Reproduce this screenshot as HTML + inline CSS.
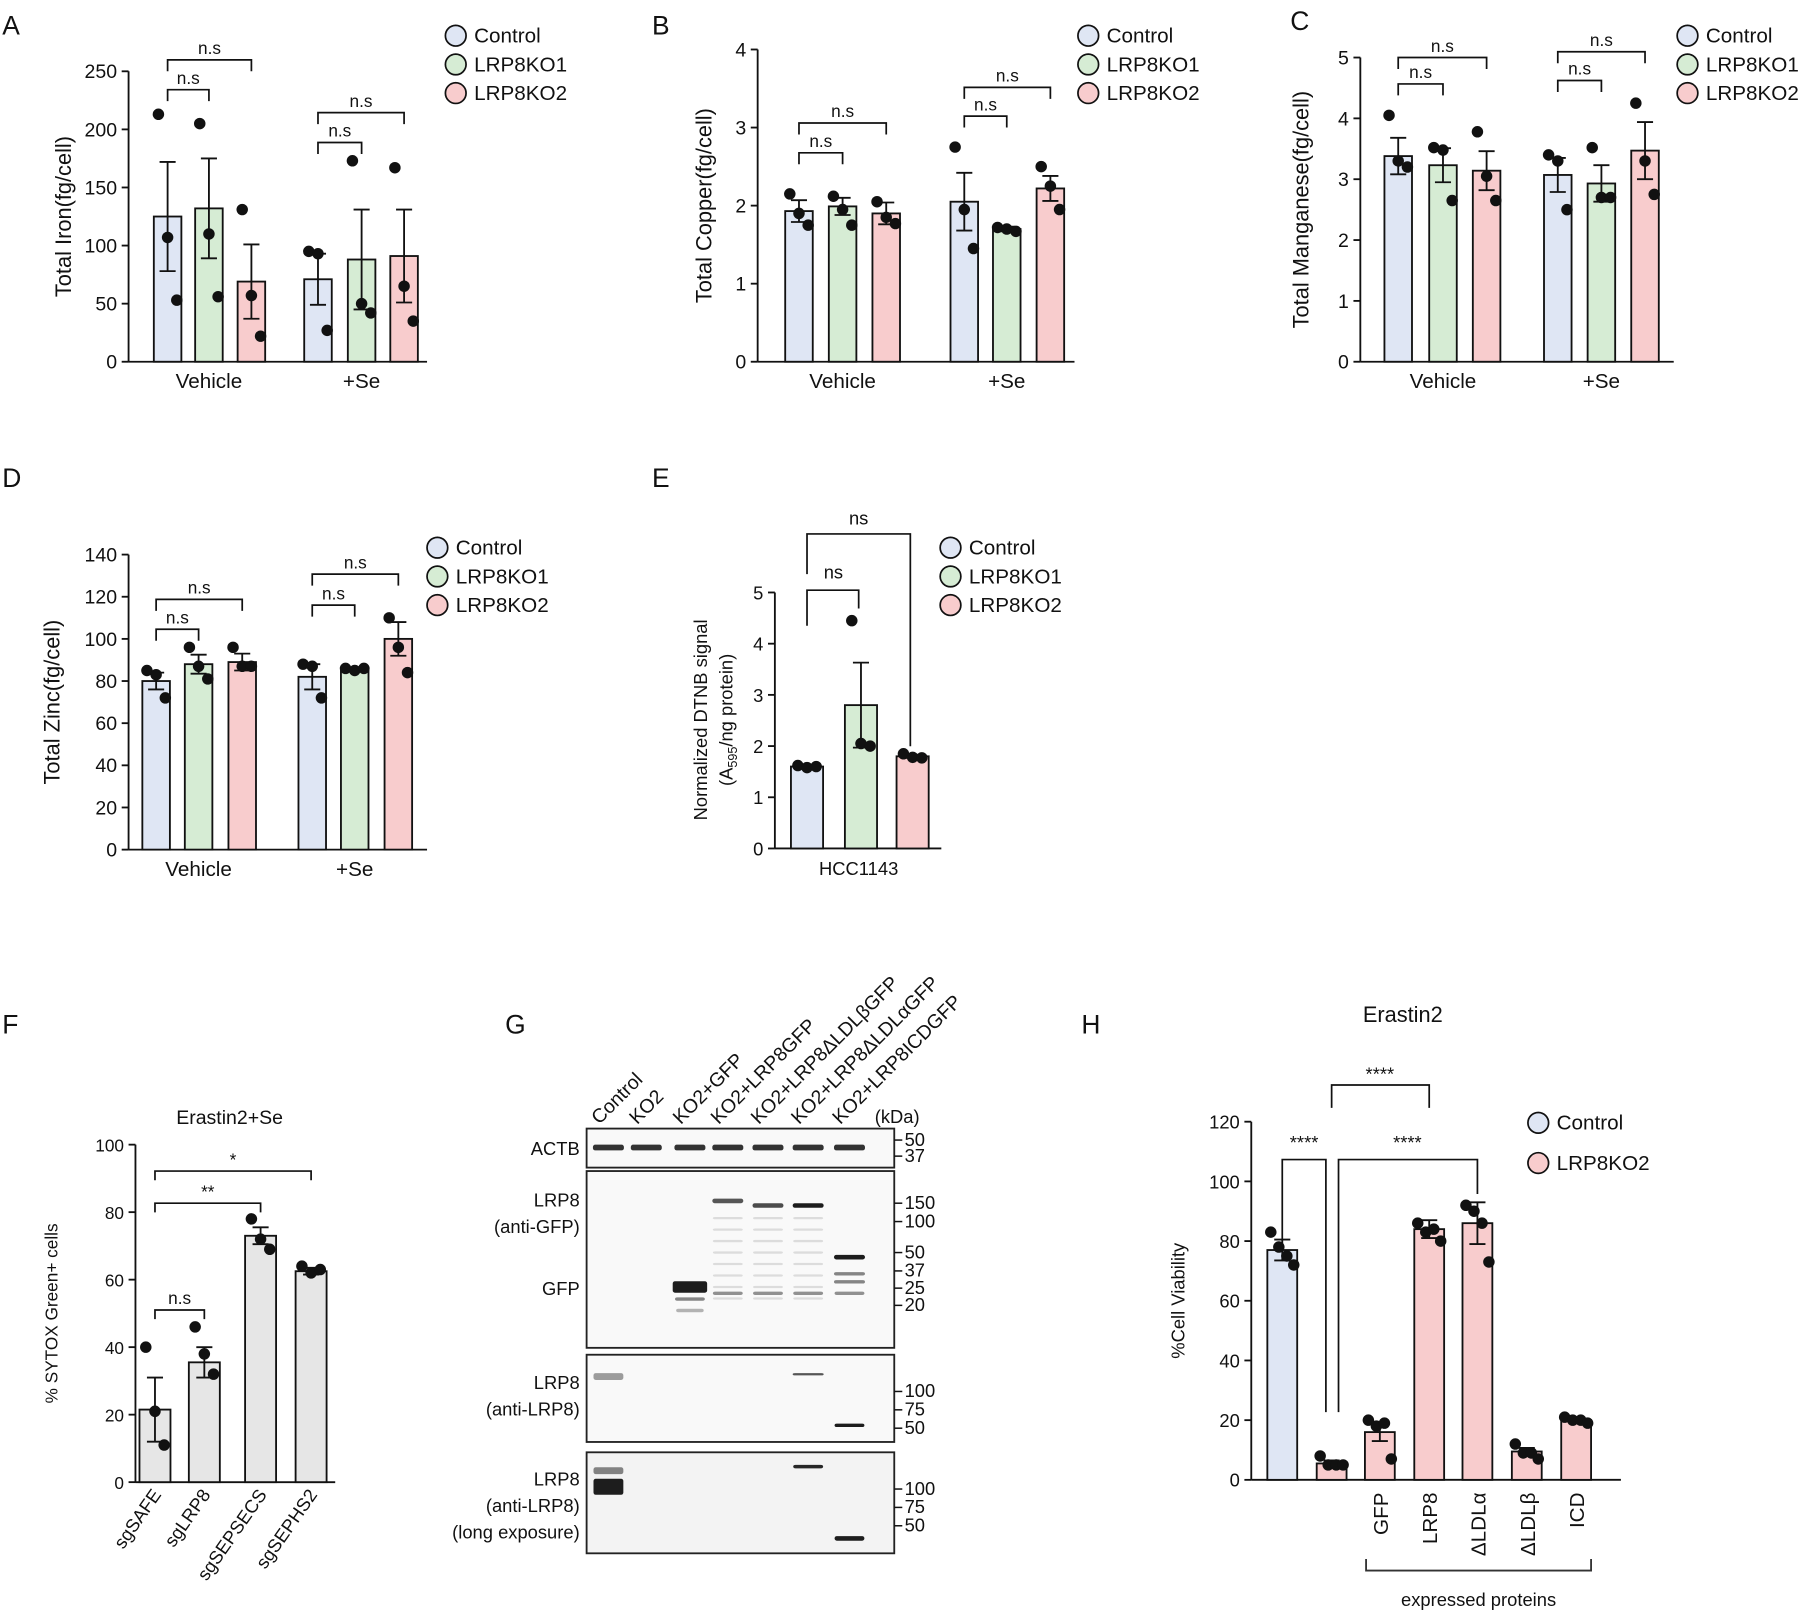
<!DOCTYPE html>
<html><head><meta charset="utf-8"><style>
html,body{margin:0;padding:0;background:#fff}
svg{display:block;font-family:"Liberation Sans",sans-serif}
</style></head><body>
<svg id="fig" width="1800" height="1612" viewBox="0 0 1568 1404" xmlns="http://www.w3.org/2000/svg">
<g id="root"></g>
</svg>
<script>
// ---- Data ----
const metalGroups = ["Vehicle", "+Se"];
const metalSeries = ["Control", "LRP8KO1", "LRP8KO2"];
const ironMeans = [[125, 132, 69], [71, 88, 91]];
const ironSem = [[47, 43, 32], [22, 43, 40]];
const ironPts = [[[213,107,53],[205,110,56],[131,57,22]], [[95,93,27],[173,50,42],[167,65,35]]];
const ironTicks = [0,50,100,150,200,250];
const copperMeans = [[1.93,1.99,1.9],[2.05,1.7,2.22]];
const copperSem = [[0.14,0.11,0.14],[0.37,0.03,0.16]];
const copperPts = [[[2.15,1.9,1.75],[2.12,1.95,1.75],[2.05,1.85,1.77]],[[2.75,1.95,1.45],[1.72,1.7,1.67],[2.5,2.25,1.95]]];
const copperTicks = [0,1,2,3,4];
const mnMeans = [[3.38,3.23,3.14],[3.07,2.93,3.47]];
const mnSem = [[0.3,0.28,0.32],[0.28,0.3,0.47]];
const mnPts = [[[4.05,3.3,3.2],[3.52,3.48,2.65],[3.78,3.05,2.65]],[[3.4,3.3,2.5],[3.52,2.7,2.7],[4.25,3.3,2.75]]];
const mnTicks = [0,1,2,3,4,5];
const zincMeans = [[80,88,89],[82,86,100]];
const zincSem = [[4,4.5,4],[6,0.5,8]];
const zincPts = [[[85,83,72],[96,87,81],[96,87,87]],[[88,87,72],[86,85,86],[110,96,84]]];
const zincTicks = [0,20,40,60,80,100,120,140];
const dtnbMeans = [1.6, 2.8, 1.8];
const dtnbSem = [0.03, 0.83, 0.03];
const dtnbPts = [[1.62,1.58,1.6],[4.45,2.05,2.0],[1.85,1.78,1.77]];
const dtnbTicks = [0,1,2,3,4,5];
const sytoxCats = ["sgSAFE","sgLRP8","sgSEPSECS","sgSEPHS2"];
const sytoxMeans = [21.5, 35.5, 73, 62.5];
const sytoxSem = [9.5, 4.5, 2.5, 1];
const sytoxPts = [[40,21,11],[46,38,32],[78,72,69],[64,62,63]];
const sytoxTicks = [0,20,40,60,80,100];
const viaCats = ["", "", "GFP","LRP8","ΔLDLα","ΔLDLβ","ICD"];
const viaMeans = [77, 5.5, 16, 84, 86, 9.5, 20];
const viaSem = [3.5, 1, 3, 3, 7, 1.2, 0.8];
const viaPts = [[83,78,75,72],[8,5,5,5],[20,18,19,7],[86,83,84,80],[92,90,86,73],[12,9,9,7],[21,20,20,19]];
const viaTicks = [0,20,40,60,80,100,120];

const COL = {"Control":"#dfe6f4","LRP8KO1":"#d6ecd4","LRP8KO2":"#f8cccd"};
const NS = "http://www.w3.org/2000/svg";
const root = document.getElementById('root');
function mk(tag, attrs, parent, txt){
  const e = document.createElementNS(NS, tag);
  for (const k in attrs) e.setAttribute(k, attrs[k]);
  if (txt !== undefined) e.textContent = txt;
  (parent||root).appendChild(e);
  return e;
}
function line(x1,y1,x2,y2,g,w){ return mk('line',{x1,y1,x2,y2,stroke:'#111','stroke-width':w||1.6},g); }
function txt(x,y,s,size,g,anchor,extra){
  const a = Object.assign({x,y,'font-size':size,'text-anchor':anchor||'middle',fill:'#111'}, extra||{});
  return mk('text',a,g,s);
}
function yAxis(g, x0, y0, yTop, ticks, max, xEnd, fs){
  const sy = v => y0 - (v/max)*(y0-yTop);
  const ax = line(x0, yTop, x0, y0, g);
  
  
  const xa = line(x0, y0, xEnd, y0, g);
  
  
  ticks.forEach(t => {
    line(x0-6, sy(t), x0, sy(t), g);
    const tl = txt(x0-10, sy(t)+6, String(t), fs||17, g, 'end');
    
    
  });
  return sy;
}
function bar(g, cx, w, v, sem, pts, sy, fill, offs){
  const b = mk('rect',{x:cx-w/2,y:sy(v),width:w,height:sy(0)-sy(v),fill,stroke:'#111','stroke-width':1.6},g);
  
  
  line(cx, sy(v+sem), cx, sy(v-sem), g);
  line(cx-7, sy(v+sem), cx+7, sy(v+sem), g);
  line(cx-7, sy(v-sem), cx+7, sy(v-sem), g);
  pts.forEach((p,i) => {
    const c = mk('circle',{cx:cx+offs[i],cy:sy(p),r:5,fill:'#111'},g);
    
    
  });
}
function bracket(g, x1, x2, y, l1, l2, label, fs){
  mk('polyline',{points:`${x1},${y+l1} ${x1},${y} ${x2},${y} ${x2},${y+l2}`,fill:'none',stroke:'#111','stroke-width':1.5},g);
  const t = txt((x1+x2)/2, y-5, label, fs||15, g);
  
  
}
function legend(g, x, y, dy, names, fs){
  names.forEach((n,i)=>{
    const c = mk('circle',{cx:x,cy:y+i*dy,r:9,fill:COL[n],stroke:'#111','stroke-width':1.5},g);
    
    
    const t = txt(x+16, y+i*dy+6, n, fs||18, g, 'start');
    
    
  });
}
function panelLetter(x,y,s){
  const t = txt(x,y,s,23,root,'start');
  
  
}
const off3 = [-8, 0, 8];
const off4 = [-10,-3,4,10];

function groupedPanel(cfg){
  const g = mk('g',{});
  
  
  const sy = yAxis(g, cfg.x0, cfg.y0, cfg.yTop, cfg.ticks, cfg.max, cfg.xEnd);
  cfg.means.forEach((grp, gi) => {
    grp.forEach((v, si) => {
      const cx = cfg.centers[gi][si];
      bar(g, cx, 24, v, cfg.sem[gi][si], cfg.pts[gi][si], sy, COL[metalSeries[si]], off3);
    });
    const gl = txt(cfg.centers[gi][1], cfg.y0+23, metalGroups[gi], 18, g);
    
    
    const b = cfg.brackets[gi];
    bracket(g, cfg.centers[gi][0], cfg.centers[gi][1], b[0], 10, 10, 'n.s');
    bracket(g, cfg.centers[gi][0], cfg.centers[gi][2], b[1], 10, 10, 'n.s');
  });
  const yt = txt(0,0,cfg.title,19,g,'middle',{transform:`translate(${cfg.tx},${(cfg.y0+cfg.yTop)/2}) rotate(-90)`});
  
  
  legend(g, cfg.lx, cfg.ly, 25, metalSeries);
}

panelLetter(2,30,'A'); panelLetter(568,30,'B'); panelLetter(1124,26,'C');
panelLetter(2,424,'D'); panelLetter(568,424,'E');
panelLetter(2,900,'F'); panelLetter(440,900,'G'); panelLetter(942,900,'H');

groupedPanel({name:'panel-a-iron',x0:112,y0:315,yTop:62,max:250,xEnd:372,ticks:ironTicks,
  means:ironMeans,sem:ironSem,pts:ironPts,centers:[[146,182,219],[277,315,352]],
  brackets:[[78,52],[124,98]],title:'Total Iron(fg/cell)',tx:62,lx:397,ly:31});
groupedPanel({name:'panel-b-copper',x0:660,y0:315,yTop:43,max:4,xEnd:936,ticks:copperTicks,
  means:copperMeans,sem:copperSem,pts:copperPts,centers:[[696,734,772],[840,877,915]],
  brackets:[[133,107],[101,76]],title:'Total Copper(fg/cell)',tx:620,lx:948,ly:31});
groupedPanel({name:'panel-c-manganese',x0:1185,y0:315,yTop:50,max:5,xEnd:1458,ticks:mnTicks,
  means:mnMeans,sem:mnSem,pts:mnPts,centers:[[1218,1257,1295],[1357,1395,1433]],
  brackets:[[73,50],[70,45]],title:'Total Manganese(fg/cell)',tx:1140,lx:1470,ly:31});
groupedPanel({name:'panel-d-zinc',x0:112,y0:740,yTop:483,max:140,xEnd:372,ticks:zincTicks,
  means:zincMeans,sem:zincSem,pts:zincPts,centers:[[136,173,211],[272,309,347]],
  brackets:[[548,522],[527,500]],title:'Total Zinc(fg/cell)',tx:52,lx:381,ly:477});

// Panel E
(function(){
  const g = mk('g',{});  
  const sy = yAxis(g, 675, 739, 516, dtnbTicks, 5, 820, 16);
  const cs = [703, 750, 795];
  dtnbMeans.forEach((v,i)=> bar(g, cs[i], 28, v, dtnbSem[i], dtnbPts[i], sy, COL[metalSeries[i]], off3));
  mk('polyline',{points:`703,545 703,514 748,514 748,530`,fill:'none',stroke:'#111','stroke-width':1.5},g);
  txt(726,504,'ns',16,g);
  mk('polyline',{points:`703,500 703,465 793,465 793,650`,fill:'none',stroke:'#111','stroke-width':1.5},g);
  txt(748,457,'ns',16,g);
  const xl = txt(748,762,'HCC1143',16,g);  
  const t1 = txt(0,0,'Normalized DTNB signal',16,g,'middle',{transform:'translate(616,627) rotate(-90)'});
   
  const t2 = mk('text',{'font-size':16,'text-anchor':'middle',fill:'#111',transform:'translate(638,627) rotate(-90)'},g);
  t2.innerHTML = '(A<tspan font-size="11" dy="4">595</tspan><tspan dy="-4">/ng protein)</tspan>';
  legend(g, 828, 477, 25, metalSeries);
})();

// Panel F
(function(){
  const g = mk('g',{});  
  const sy = yAxis(g, 118, 1291, 997, sytoxTicks, 100, 292, 15);
  const cs = [135, 178, 227, 271];
  sytoxMeans.forEach((v,i)=>{
    bar(g, cs[i], 27, v, sytoxSem[i], sytoxPts[i], sy, '#e6e6e6', off3);
    const l = txt(0,0,sytoxCats[i],16,g,'end',{transform:`translate(${cs[i]+6},${1302}) rotate(-55)`});
     
  });
  bracket(g, 135, 178, 1141, 8, 8, 'n.s', 15);
  bracket(g, 135, 227, 1048, 8, 8, '**', 15);
  bracket(g, 135, 271, 1020, 8, 8, '*', 15);
  const tt = txt(200,979,'Erastin2+Se',17,g);  
  const yt = txt(0,0,'% SYTOX Green+ cells',15,g,'middle',{transform:'translate(50,1144) rotate(-90)'});
   
})();

// Panel H
(function(){
  const g = mk('g',{});  
  const sy = yAxis(g, 1090, 1289, 977, viaTicks, 120, 1412, 16);
  const cs = [1117, 1160, 1202, 1245, 1287, 1330, 1373];
  viaMeans.forEach((v,i)=>{
    bar(g, cs[i], 26, v, viaSem[i], viaPts[i], sy, i===0?COL.Control:COL.LRP8KO2, off4);
    if (viaCats[i]) {
      const l = txt(0,0,viaCats[i],18,g,'end',{transform:`translate(${cs[i]+7},${1300}) rotate(-90)`});
       
    }
  });
  mk('polyline',{points:`1117,1080 1117,1010 1155,1010 1155,1230`,fill:'none',stroke:'#111','stroke-width':1.5},g);
  txt(1136,1001,'****',16,g);
  mk('polyline',{points:`1166,1230 1166,1010 1287,1010 1287,1040`,fill:'none',stroke:'#111','stroke-width':1.5},g);
  txt(1226,1001,'****',16,g);
  mk('polyline',{points:`1160,965 1160,945 1245,945 1245,965`,fill:'none',stroke:'#111','stroke-width':1.5},g);
  txt(1202,941,'****',16,g);
  mk('polyline',{points:`1190,1358 1190,1368 1386,1368 1386,1358`,fill:'none',stroke:'#333','stroke-width':1.6},g);
  const ep = txt(1288,1399,'expressed proteins',16,g);  
  const tt = txt(1222,890,'Erastin2',19,g);  
  const yt = txt(0,0,'%Cell Viability',16,g,'middle',{transform:'translate(1032,1133) rotate(-90)'});
   
  legend(g, 1340, 978, 35, ["Control","LRP8KO2"]);
})();

// Panel G (western blot)
(function(){
  const g = mk('g',{});  
  const lanes = ["Control","KO2","KO2+GFP","KO2+LRP8GFP","KO2+LRP8ΔLDLβGFP","KO2+LRP8ΔLDLαGFP","KO2+LRP8ICDGFP"];
  const lx = [530, 563, 601, 634, 669, 704, 740];
  lanes.forEach((l,i)=>{
    const t = txt(0,0,l,17,g,'start',{transform:`translate(${lx[i]-8},${980}) rotate(-45)`});
     
  });
  txt(762,978,'(kDa)',16,g,'start');
  const boxes = [[983,34],[1020,154],[1180,76],[1265,88]];
  boxes.forEach((b,i)=>{
    mk('rect',{x:511,y:b[0],width:268,height:b[1],fill:i===3?'#f3f3f3':'#f9f9f9',stroke:'#222','stroke-width':1.6},g);
  });
  const band = (x,y,w,h,op) => mk('rect',{x:x-w/2,y,width:w,height:h,rx:2,fill:'#111',opacity:op},g);
  lx.forEach(x=>band(x,997,27,5,0.85));
  [[634,1044,.7],[669,1048,.75],[704,1048,.95]].forEach(b=>band(b[0],b[1],27,4,b[2]));
  [634,669,704].forEach(x=>{for(let k=0;k<8;k++) band(x,1060+k*10,26,2,0.12);});
  band(601,1116,30,10,0.95); band(601,1130,26,3,0.5); band(601,1140,24,3,0.3);
  [634,669,704,740].forEach(x=>band(x,1125,26,3,0.45));
  band(740,1093,27,4,0.95); band(740,1108,27,3,0.5); band(740,1115,27,3,0.5);
  band(530,1196,26,6,0.4); band(704,1196,27,2,0.7); band(740,1240,26,3,0.95);
  band(530,1288,26,14,0.95); band(530,1278,26,6,0.5); band(704,1276,26,3,0.9); band(740,1338,26,4,0.95);
  const kda = [[50,998],[37,1012],[150,1053],[100,1069],[50,1096],[37,1112],[25,1127],[20,1142],[100,1217],[75,1233],[50,1249],[100,1302],[75,1318],[50,1334]];
  kda.forEach(k=>{ line(779,k[1]-5,786,k[1]-5,g,1.3); txt(788,k[1],String(k[0]),16,g,'start'); });
  const labs = [["ACTB",1006],["LRP8",1051],["(anti-GFP)",1074],["GFP",1128],["LRP8",1210],["(anti-LRP8)",1233],["LRP8",1294],["(anti-LRP8)",1317],["(long exposure)",1340]];
  labs.forEach(l=>{ const t=txt(505,l[1],l[0],16,g,'end');   });
})();
</script>
</body></html>
